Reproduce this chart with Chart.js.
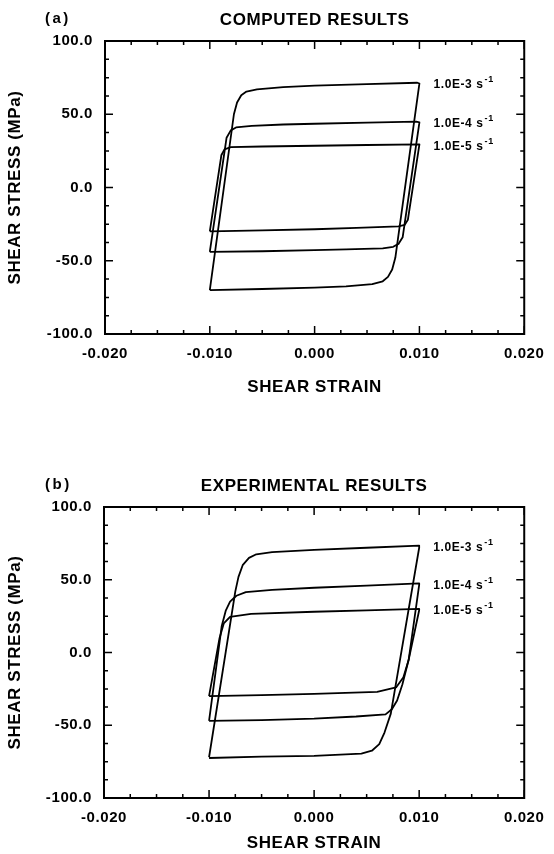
<!DOCTYPE html>
<html>
<head>
<meta charset="utf-8">
<script src="https://cdn.jsdelivr.net/npm/chart.js@4.4.0/dist/chart.umd.min.js"></script>
<style>
html, body { margin: 0; padding: 0; background: #fff; }
.box { position: absolute; left: 0; width: 554px; height: 427px; }
</style>
</head>
<body>
<div class="box" style="top:0"><canvas id="computedChart" width="554" height="427"></canvas></div>
<div class="box" style="top:427px"><canvas id="experimentalChart" width="554" height="427"></canvas></div>
<script>
// strain rates, one loop per rate
var rateLabels = ['1.0E-3', '1.0E-4', '1.0E-5'];

// (a) computed loops
var compStrain1 = [-0.0100, -0.0077, -0.0074, -0.0070, -0.0065, -0.0055, -0.0030, 0.0000, 0.0050, 0.0098, 0.0100, 0.0077, 0.0074, 0.0070, 0.0065, 0.0055, 0.0030, 0.0000, -0.0050, -0.0100];
var compStress1 = [-70.0, 50.0, 58.0, 63.0, 65.5, 67.0, 68.5, 69.5, 70.5, 71.5, 71.0, -48.0, -56.0, -61.0, -64.0, -66.0, -67.5, -68.3, -69.3, -70.0];
var compStrain2 = [-0.0100, -0.0084, -0.0080, -0.0075, -0.0060, -0.0030, 0.0000, 0.0050, 0.0097, 0.0100, 0.0084, 0.0080, 0.0075, 0.0065, 0.0030, 0.0000, -0.0050, -0.0100];
var compStress2 = [-44.0, 34.0, 39.0, 41.0, 42.0, 43.0, 43.5, 44.3, 45.0, 44.5, -34.0, -38.5, -40.5, -41.5, -42.3, -42.8, -43.5, -44.0];
var compStrain3 = [-0.0100, -0.0089, -0.0086, -0.0080, -0.0050, 0.0000, 0.0050, 0.0100, 0.0089, 0.0086, 0.0080, 0.0040, 0.0000, -0.0050, -0.0100];
var compStress3 = [-30.0, 22.0, 26.0, 27.5, 28.0, 28.5, 29.0, 29.5, -22.0, -25.5, -26.5, -27.5, -28.5, -29.3, -30.0];

// (b) experimental loops
var expStrain1 = [-0.0100, -0.0075, -0.0072, -0.0068, -0.0062, -0.0055, -0.0040, 0.0000, 0.0050, 0.0100, 0.0100, 0.0073, 0.0067, 0.0062, 0.0055, 0.0045, 0.0000, -0.0050, -0.0100];
var expStress1 = [-72.0, 42.0, 52.0, 60.0, 65.0, 67.5, 69.0, 70.5, 72.0, 73.5, 72.0, -42.0, -55.0, -63.0, -67.5, -69.5, -71.0, -71.5, -72.5];
var expStrain2 = [-0.0100, -0.0088, -0.0084, -0.0080, -0.0074, -0.0065, -0.0040, 0.0000, 0.0050, 0.0100, 0.0100, 0.0090, 0.0084, 0.0079, 0.0074, 0.0068, 0.0040, 0.0000, -0.0050, -0.0100];
var expStress2 = [-47.0, 18.0, 29.0, 35.0, 39.0, 41.5, 43.0, 44.5, 46.0, 47.5, 46.5, -5.0, -22.0, -33.0, -39.0, -42.5, -44.0, -45.5, -46.5, -47.0];
var expStrain3 = [-0.0100, -0.0090, -0.0086, -0.0080, -0.0060, 0.0000, 0.0050, 0.0100, 0.0100, 0.0090, 0.0085, 0.0078, 0.0060, 0.0000, -0.0050, -0.0100];
var expStress3 = [-30.0, 10.0, 20.0, 24.5, 26.5, 28.0, 29.0, 30.0, 29.0, -5.0, -17.0, -24.0, -27.0, -28.5, -29.3, -30.0];

// axes
var strainMin = -0.02, strainMax = 0.02, strainStep = 0.01, strainMinor = 0.0025;
var stressMin = -100, stressMax = 100, stressStep = 50, stressMinor = 12.5;

var FONT = "'Liberation Sans', Arial, sans-serif";

function toPoints(xs, ys) {
    return xs.map(function (x, i) { return { x: x, y: ys[i] }; });
}

function makeDatasets(strains, stresses) {
    return strains.map(function (s, i) {
        return {
            label: rateLabels[i],
            data: toPoints(s, stresses[i]),
            borderColor: '#000',
            borderWidth: 1.8,
            borderJoinStyle: 'round',
            pointRadius: 0,
            showLine: true,
            fill: false
        };
    });
}

// frame with inward ticks, titles and rate labels
var framePlugin = {
    id: 'frame',
    beforeDraw: function (chart) {
        chart.ctx.letterSpacing = '0.6px'; // the scanned lettering is wide
    },
    afterDatasetsDraw: function (chart, args, opts) {
        var ctx = chart.ctx, a = chart.chartArea;
        var xs = chart.scales.x, ys = chart.scales.y;
        var i, v, p, len;
        ctx.save();
        ctx.strokeStyle = '#000';
        ctx.lineWidth = 2;
        ctx.strokeRect(a.left, a.top, a.right - a.left, a.bottom - a.top);

        ctx.lineWidth = 1.5;
        ctx.beginPath();
        for (v = strainMin, i = 0; v <= strainMax + 1e-9; v += strainMinor, i++) {
            p = xs.getPixelForValue(v);
            len = (i % 4 === 0) ? 8 : 4;
            ctx.moveTo(p, a.bottom); ctx.lineTo(p, a.bottom - len);
            ctx.moveTo(p, a.top); ctx.lineTo(p, a.top + len);
        }
        for (v = stressMin, i = 0; v <= stressMax + 1e-9; v += stressMinor, i++) {
            p = ys.getPixelForValue(v);
            len = (i % 4 === 0) ? 8 : 4;
            ctx.moveTo(a.left, p); ctx.lineTo(a.left + len, p);
            ctx.moveTo(a.right, p); ctx.lineTo(a.right - len, p);
        }
        ctx.stroke();

        ctx.fillStyle = '#000';
        ctx.textBaseline = 'middle';

        // chart title and panel tag
        ctx.font = 'bold 17px ' + FONT;
        ctx.textAlign = 'center';
        ctx.fillText(opts.title, (a.left + a.right) / 2, a.top - 21);
        ctx.font = 'bold 15px ' + FONT;
        ctx.textAlign = 'left';
        ctx.letterSpacing = '2.5px';
        ctx.fillText(opts.tag, 45, a.top - 22);
        ctx.letterSpacing = '0.6px';

        // axis titles
        ctx.font = 'bold 17px ' + FONT;
        ctx.textAlign = 'center';
        ctx.fillText('SHEAR STRAIN', (a.left + a.right) / 2, a.bottom + opts.xTitleGap);
        ctx.save();
        ctx.translate(15, (a.top + a.bottom) / 2);
        ctx.rotate(-Math.PI / 2);
        ctx.fillText('SHEAR STRESS (MPa)', 0, 0);
        ctx.restore();

        // rate labels beside the loop tips
        ctx.textAlign = 'left';
        chart.data.datasets.forEach(function (ds) {
            var top = Math.max.apply(null, ds.data.map(function (d) { return d.y; }));
            var x = xs.getPixelForValue(strainStep) + 14;
            var y = ys.getPixelForValue(top) + 2;
            ctx.font = 'bold 12px ' + FONT;
            var base = ds.label + ' s';
            ctx.fillText(base, x, y);
            var w = ctx.measureText(base).width;
            ctx.font = 'bold 9px ' + FONT;
            ctx.fillText('-1', x + w + 1, y - 5);
        });
        ctx.restore();
    }
};

function createChart(id, strains, stresses, padding, yWidth, xHeight, frameOpts) {
    return new Chart(document.getElementById(id), {
        type: 'scatter',
        data: { datasets: makeDatasets(strains, stresses) },
        options: {
            responsive: false,
            animation: false,
            layout: { padding: padding },
            elements: { line: { tension: 0 } },
            plugins: {
                legend: { display: false },
                tooltip: { enabled: false },
                frame: frameOpts
            },
            scales: {
                x: {
                    type: 'linear',
                    min: strainMin,
                    max: strainMax,
                    grid: { display: false, drawTicks: false },
                    border: { display: false },
                    afterFit: function (s) { s.height = xHeight; },
                    ticks: {
                        stepSize: strainStep,
                        autoSkip: false,
                        maxRotation: 0,
                        padding: 11,
                        color: '#000',
                        font: { family: FONT, size: 15, weight: 'bold' },
                        callback: function (v) { return (Math.abs(v) < 1e-9 ? 0 : v).toFixed(3); }
                    }
                },
                y: {
                    type: 'linear',
                    min: stressMin,
                    max: stressMax,
                    grid: { display: false, drawTicks: false },
                    border: { display: false },
                    afterFit: function (s) { s.width = yWidth; },
                    ticks: {
                        stepSize: stressStep,
                        padding: 12,
                        color: '#000',
                        font: { family: FONT, size: 15, weight: 'bold' },
                        callback: function (v) { return v.toFixed(1); }
                    }
                }
            }
        },
        plugins: [framePlugin]
    });
}

createChart('computedChart',
    [compStrain1, compStrain2, compStrain3],
    [compStress1, compStress2, compStress3],
    { top: 41, right: 23, left: 0, bottom: 0 }, 105, 93,
    { title: 'COMPUTED RESULTS', tag: '(a)', xTitleGap: 53 });

createChart('experimentalChart',
    [expStrain1, expStrain2, expStrain3],
    [expStress1, expStress2, expStress3],
    { top: 80, right: 24, left: 0, bottom: 0 }, 104, 56,
    { title: 'EXPERIMENTAL RESULTS', tag: '(b)', xTitleGap: 45 });
</script>
</body>
</html>
